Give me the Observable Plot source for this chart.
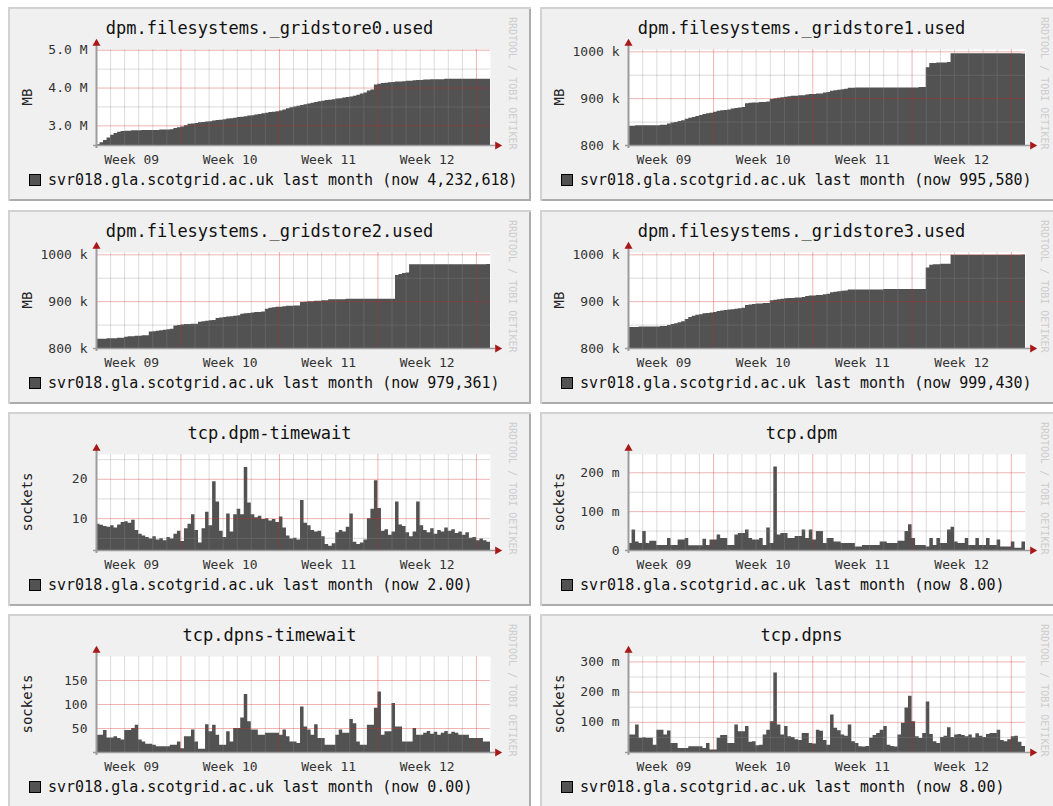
<!DOCTYPE html>
<html><head><meta charset="utf-8">
<script src="https://cdn.jsdelivr.net/npm/d3@7"></script>
<script src="https://cdn.jsdelivr.net/npm/@observablehq/plot@0.6"></script>
<style>
html,body{margin:0;padding:0;background:#fff;}
body{width:1053px;height:806px;overflow:hidden;position:relative;font-family:"DejaVu Sans Mono",monospace;}
.panel{position:absolute;width:523px;height:194px;background:#f0f0f0;box-shadow:inset 2px 2px 0 #d2d2d2, inset -2px -2px 0 #acacac;}
.panel svg{position:absolute;left:0;top:0;}
.title{position:absolute;left:0;width:523px;top:11px;text-align:center;font-size:17px;line-height:20px;color:#111;white-space:pre;}
.legend{position:absolute;left:21px;top:165px;font-size:15px;line-height:16px;color:#111;white-space:pre;display:flex;align-items:center;}
.swatch{width:10px;height:10px;background:#525252;border:1px solid #000;margin-right:7px;}
.wm{position:absolute;left:498px;top:10px;writing-mode:vertical-rl;font-size:10px;line-height:12px;color:#cdcdcd;white-space:pre;}
.ylab{position:absolute;left:19px;top:90px;writing-mode:vertical-rl;transform:translate(-50%,-50%) rotate(180deg);font-size:14px;line-height:16px;color:#222;white-space:pre;}
</style></head><body>
<script>
// ---- shared axis data ----
const weekLabels = ["Week 09", "Week 10", "Week 11", "Week 12"];
const weekMid = [3.5, 10.5, 17.5, 24.5];
const weekStart = [7, 14, 21, 28];
const dayLines = [2,3,4,5,6,8,9,10,11,12,13,15,16,17,18,19,20,22,23,24,25,26,27];
const xDomain = [1, 29];
const stepDays = 0.25;

const titles = ["dpm.filesystems._gridstore0.used","dpm.filesystems._gridstore1.used",
  "dpm.filesystems._gridstore2.used","dpm.filesystems._gridstore3.used",
  "tcp.dpm-timewait","tcp.dpm","tcp.dpns-timewait","tcp.dpns"];
const legendHost = "svr018.gla.scotgrid.ac.uk last month";
const nowValues = ["4,232,618","995,580","979,361","999,430","2.00","8.00","0.00","8.00"];
const yUnits = ["MB","MB","MB","MB","sockets","sockets","sockets","sockets"];
const watermark = "RRDTOOL / TOBI OETIKER";

// ---- series (one sample per 6 h) ----
const gridstore0 = [2.50,2.55,2.61,2.68,2.75,2.80,2.83,2.85,2.86,2.86,
2.87,2.87,2.87,2.88,2.88,2.88,2.88,2.88,2.89,2.89,
2.89,2.90,2.93,2.95,2.97,3.00,3.04,3.05,3.06,3.08,
3.09,3.10,3.11,3.13,3.14,3.15,3.16,3.18,3.19,3.20,
3.22,3.23,3.24,3.26,3.27,3.29,3.30,3.32,3.33,3.35,
3.36,3.37,3.39,3.42,3.45,3.48,3.50,3.52,3.54,3.56,
3.58,3.60,3.62,3.64,3.65,3.67,3.68,3.69,3.71,3.72,
3.74,3.75,3.76,3.78,3.81,3.84,3.87,3.92,3.95,4.08,
4.10,4.12,4.13,4.14,4.15,4.16,4.16,4.17,4.18,4.18,
4.19,4.20,4.20,4.21,4.21,4.22,4.22,4.22,4.22,4.23,
4.23,4.23,4.23,4.23,4.23,4.23,4.23,4.23,4.23,4.23,
4.23,4.233];
const gridstore1 = [841,841,842,842,842,842,842,842,842,843,843,
846,848,849,851,853, 856,858,860,862,864, 866,868,869,871, 873,874,875,876,
878,879,880,881, 889,890,891,891,892,892,893, 898,900,901,902,
903,904,905,905,906,906, 908,909,909,910,910, 912,913, 916,917,918,919,920,
922,922,923,923,923,923,923,923,923,923,923,923,923,923,923,923,923,923,923,923,924,924,
966,975,975,976,976,976,977,
996,996,996,996,996,996,996,996,996,996,996,996,996,996,996,996,996,996,996,996,995.6];
const gridstore2 = [820,820,820,821,821,821,822,822, 824,825,825,826,826,827,827,
835,836,837,838,839,840,841, 848,849,850,851,851,852,852, 856,857,858,859,860,
864,865,866,867,868,869,870, 873,874,875,876,877,877,878,
884,886,887,888,888,889,890,890,891,891, 898,899,900,900,901,901,902,902,
904,904,904,904,904,905,905,905,905,905,905,905,905,905,905,905,905,905,905,
956,958,960,961,
979,979,979,979,979,979,979,979,979,979,979,979,979,979,979,979,979,979,979,979,979,979,979.4];
const gridstore3 = [845,845,845,846,846,846,846,846,846,847,847,
849,851,853,855,857, 862,866,869,871,872, 874,875,876,877, 879,880,881,882,
883,884,885,886, 892,893,894,895,895,896,896, 902,903,904,905,
906,907,907,908,908,909, 911,912,912,913,913, 915,916, 919,920,921,922,923,
925,925,925,925,925,925,925,925,925,925,926,926,926,926,926,926,926,926,926,926,926,926,
972,978,979,979,980,980,980,
999,999,999,999,999,999,999,999,999,999,999,999,999,999,999,999,999,999,999,999,999.4];
const dpmTimewait = [8.6,8.3,8.0,7.8,8.2,7.6,8.4,9.0,9.2,8.8,
9.6,7.0,6.0,5.6,5.2,4.8,5.4,4.6,4.9,4.4,
5.2,4.8,6.0,6.8,4.2,7.4,8.6,11.0,7.0,3.8,
7.4,11.6,8.2,19.4,14.2,6.8,5.2,11.2,6.6,11.0,
12.4,11.0,23.0,14.0,11.0,10.2,10.6,9.8,10.0,9.4,
9.8,9.0,10.4,7.6,5.6,4.8,5.0,4.6,14.6,8.8,
8.2,7.0,6.6,6.8,5.4,3.4,3.0,3.6,6.4,7.0,
6.6,7.8,11.2,4.0,3.4,3.8,4.6,10.0,12.4,19.6,
12.6,6.8,7.2,5.8,6.6,14.2,8.4,8.0,6.4,5.4,
6.6,14.2,8.2,7.0,6.4,7.4,6.0,7.0,6.6,7.6,
6.8,7.2,6.2,6.6,5.8,6.4,5.0,5.2,4.4,4.8,
4.4,4.0];
const dpm = [18,53,22,18,49,18,24,24,13,13,
13,31,13,13,27,27,31,12,12,12,
12,29,13,27,27,40,31,31,13,13,
40,44,44,53,31,27,27,31,13,58,
18,215,40,44,44,31,31,36,36,53,
31,53,27,49,49,18,31,31,22,22,
18,18,18,18,9,9,13,13,13,13,
13,22,22,18,18,18,24,24,49,66,
31,13,13,13,9,31,13,31,18,18,
53,60,22,18,18,31,13,13,31,13,
13,31,13,13,27,9,9,9,22,6,
6,22];
const dpnsTimewait = [36,36,46,30,30,33,29,26,46,46,
50,57,26,22,17,17,15,12,12,12,
12,15,15,22,8,33,33,47,22,7,
7,58,43,57,36,15,15,43,22,50,
50,72,121,64,47,47,36,36,40,40,
40,40,36,47,33,22,22,19,95,53,
47,36,58,29,29,15,15,15,36,47,
40,40,69,60,22,15,15,57,57,92,
126,36,43,43,102,53,53,22,22,22,
50,36,36,40,44,38,42,36,40,44,
38,42,40,36,36,36,29,29,29,29,
22,22];
const dpns = [58,58,91,47,49,47,47,24,74,74,
58,71,30,30,13,13,13,19,19,19,
19,13,30,8,8,47,56,56,30,30,
91,69,69,86,34,36,22,24,58,74,
102,263,91,58,86,52,50,42,40,63,
63,30,28,74,70,40,24,124,80,72,
58,54,91,36,30,19,18,20,47,56,
63,74,86,24,20,18,58,97,147,186,
102,52,46,63,167,60,36,30,50,54,
82,50,58,60,56,52,58,48,62,54,
50,60,63,63,74,40,36,42,52,54,
34,20];

// ---- y tick values / labels ----
const gsMTicks = [3, 4, 5], gsMTickLabels = ["3.0 M", "4.0 M", "5.0 M"], gsMMinor = [3.5, 4.5];
const gsKTicks = [800, 900, 1000], gsKTickLabels = ["800 k", "900 k", "1000 k"], gsKMinor = [850, 950];
const dtwTicks = [10, 20], dtwTickLabels = ["10", "20"], dtwMinor = [5, 15, 25];
const dpmTicks = [0, 100, 200], dpmTickLabels = ["0", "100 m", "200 m"], dpmMinor = [50, 150];
const ntwTicks = [50, 100, 150], ntwTickLabels = ["50", "100", "150"], ntwMinor = [];
const dpnsTicks = [100, 200, 300], dpnsTickLabels = ["100 m", "200 m", "300 m"], dpnsMinor = [50, 150, 250];

const panels = [
  {values: gridstore0, yDomain: [2.48, 5.02], ticks: gsMTicks, labels: gsMTickLabels, minor: gsMMinor},
  {values: gridstore1, yDomain: [800, 1005], ticks: gsKTicks, labels: gsKTickLabels, minor: gsKMinor},
  {values: gridstore2, yDomain: [800, 1005], ticks: gsKTicks, labels: gsKTickLabels, minor: gsKMinor},
  {values: gridstore3, yDomain: [800, 1005], ticks: gsKTicks, labels: gsKTickLabels, minor: gsKMinor},
  {values: dpmTimewait, yDomain: [1.9, 26.3], ticks: dtwTicks, labels: dtwTickLabels, minor: dtwMinor},
  {values: dpm, yDomain: [0, 247], ticks: dpmTicks, labels: dpmTickLabels, minor: dpmMinor},
  {values: dpnsTimewait, yDomain: [0, 200], ticks: ntwTicks, labels: ntwTickLabels, minor: ntwMinor},
  {values: dpns, yDomain: [0, 318], ticks: dpnsTicks, labels: dpnsTickLabels, minor: dpnsMinor}
];

const panelLeft = [8, 540];
const panelTop = [7, 210, 412, 614];
const FONT = '"DejaVu Sans Mono", monospace';

panels.forEach((cfg, idx) => {
  const col = idx % 2, row = Math.floor(idx / 2);
  const div = document.createElement("div");
  div.className = "panel";
  div.style.left = panelLeft[col] + "px";
  div.style.top = panelTop[row] + "px";
  document.body.appendChild(div);

  const data = cfg.values.map((v, i) => ({t: xDomain[0] + i * stepDays, v}));
  data.push({t: xDomain[1], v: cfg.values[cfg.values.length - 1]});
  const y0 = cfg.yDomain[0];
  const tickData = cfg.ticks.map((v, i) => ({v, label: cfg.labels[i]}));
  const weekData = weekLabels.map((label, i) => ({label, x: weekMid[i]}));

  const svg = Plot.plot({
    width: 523, height: 194,
    marginLeft: 88, marginRight: col ? 38 : 41, marginTop: 42, marginBottom: 56,
    x: {domain: xDomain, axis: null},
    y: {domain: cfg.yDomain, axis: null},
    style: {background: "transparent", fontFamily: FONT, overflow: "visible"},
    marks: [
      Plot.frame({fill: "#ffffff", stroke: "none"}),
      Plot.areaY(data, {x: "t", y1: () => y0, y2: "v", curve: "step-after", fill: "#525252"}),
      Plot.ruleX(dayLines, {stroke: "#8c8c8c", strokeOpacity: 0.3}),
      Plot.ruleY(cfg.minor, {stroke: "#8c8c8c", strokeOpacity: 0.3}),
      Plot.ruleX(weekStart, {stroke: "#d02828", strokeOpacity: 0.35}),
      Plot.ruleY(cfg.ticks, {stroke: "#d02828", strokeOpacity: 0.35}),
      Plot.ruleX([xDomain[0]], {stroke: "#9c9c9c", strokeWidth: 2, insetTop: -5, insetBottom: -3}),
      Plot.ruleY([y0], {stroke: "#9c9c9c", strokeWidth: 1.5, insetLeft: -3, insetRight: -5}),
      Plot.dot([0], {frameAnchor: "top-left", symbol: "triangle", r: 3, fill: "#a81818", stroke: "none", dy: -6}),
      Plot.dot([0], {frameAnchor: "bottom-right", symbol: "triangle", rotate: 90, r: 3, fill: "#a81818", stroke: "none", dx: 7}),
      Plot.text(tickData, {y: "v", text: "label", frameAnchor: "left", textAnchor: "end", dx: -9,
        fontSize: 13, fill: "#333", fontFamily: FONT}),
      Plot.text(weekData, {x: "x", text: "label", frameAnchor: "bottom", dy: 18,
        fontSize: 13, fill: "#333", fontFamily: FONT})
    ]
  });
  div.appendChild(svg);

  const t = document.createElement("div");
  t.className = "title"; t.textContent = titles[idx]; div.appendChild(t);

  const yl = document.createElement("div");
  yl.className = "ylab"; yl.textContent = yUnits[idx]; div.appendChild(yl);

  const wm = document.createElement("div");
  wm.className = "wm"; wm.textContent = watermark; div.appendChild(wm);

  const lg = document.createElement("div");
  lg.className = "legend";
  const sw = document.createElement("span"); sw.className = "swatch";
  const lt = document.createElement("span");
  lt.textContent = legendHost + " (now " + nowValues[idx] + ")";
  lg.appendChild(sw); lg.appendChild(lt);
  div.appendChild(lg);
});
</script>
</body></html>
